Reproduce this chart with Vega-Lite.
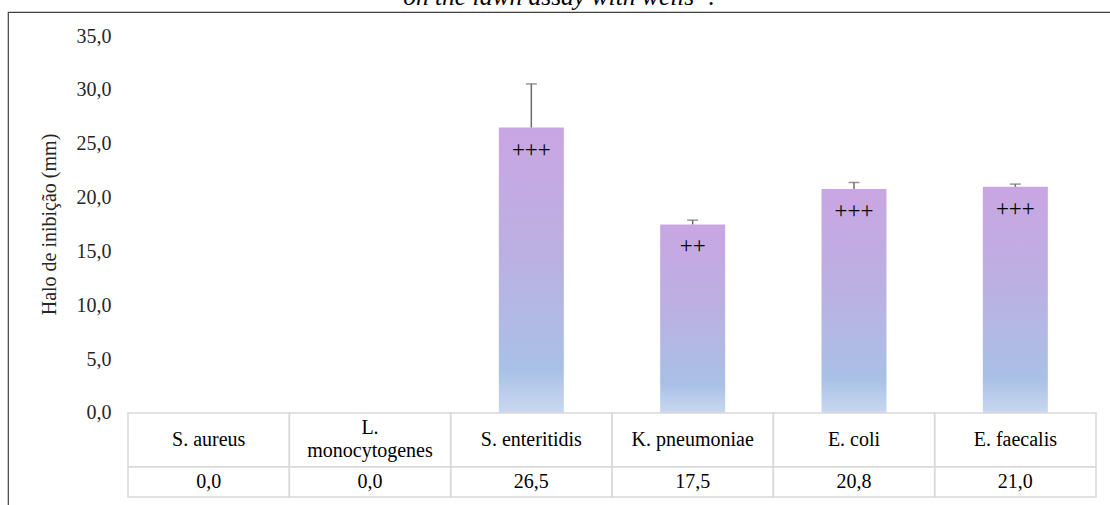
{
  "$schema": "https://vega.github.io/schema/vega-lite/v6.json",
  "width": 1102,
  "height": 493,
  "autosize": "none",
  "padding": {"left": 8, "top": 12, "right": 0, "bottom": 0},
  "title": {
    "text": "on the lawn assay with wells”.",
    "font": "'Liberation Serif', 'DejaVu Serif', serif",
    "fontStyle": "italic",
    "fontWeight": "normal",
    "fontSize": 25.5,
    "color": "#000000",
    "anchor": "middle",
    "baseline": "alphabetic",
    "offset": 0,
    "dy": 18
  },
  "data": {
    "values": [
      {"cat": "S. aureus", "name": "S. aureus", "lines": 1, "value": 0.0, "hi": 0.0, "err": 0, "sig": ""},
      {"cat": "L. monocytogenes", "name": "L.\nmonocytogenes", "lines": 2, "value": 0.0, "hi": 0.0, "err": 0, "sig": ""},
      {"cat": "S. enteritidis", "name": "S. enteritidis", "lines": 1, "value": 26.5, "hi": 30.55, "err": 1, "sig": "+++"},
      {"cat": "K. pneumoniae", "name": "K. pneumoniae", "lines": 1, "value": 17.5, "hi": 17.9, "err": 1, "sig": "++"},
      {"cat": "E. coli", "name": "E. coli", "lines": 1, "value": 20.8, "hi": 21.4, "err": 1, "sig": "+++"},
      {"cat": "E. faecalis", "name": "E. faecalis", "lines": 1, "value": 21.0, "hi": 21.25, "err": 1, "sig": "+++"}
    ]
  },
  "encoding": {
    "x": {
      "field": "cat",
      "type": "nominal",
      "sort": null,
      "scale": {"range": [120, 1088], "paddingInner": 0, "paddingOuter": 0},
      "axis": null
    }
  },
  "layer": [
    {
      "mark": {"type": "bar", "width": {"band": 0.403},
        "fill": {"gradient": "linear", "x1": 0, "y1": 0, "x2": 0, "y2": 1,
          "stops": [
            {"offset": 0, "color": "#c9a6e3"},
            {"offset": 0.45, "color": "#bbb0e2"},
            {"offset": 0.85, "color": "#a9c1e6"},
            {"offset": 1, "color": "#cad8f0"}
          ]}},
      "encoding": {
        "y": {
          "field": "value",
          "type": "quantitative",
          "scale": {"domain": [-7.8, 35], "range": [485, 24], "nice": false, "zero": false},
          "axis": {
            "title": "Halo de inibição (mm)",
            "values": [0, 5, 10, 15, 20, 25, 30, 35],
            "format": ".1f",
            "offset": -120,
            "domain": false,
            "ticks": false,
            "grid": false,
            "labelPadding": 17,
            "labelFont": "'Liberation Serif', 'DejaVu Serif', serif",
            "labelFontSize": 20,
            "labelColor": "#262626",
            "titleFont": "'Liberation Serif', 'DejaVu Serif', serif",
            "titleFontSize": 20,
            "titleFontWeight": "normal",
            "titleColor": "#262626",
            "titleX": -79,
            "titleY": 212,
            "titleBaseline": "middle",
            "titleAngle": -90
          }
        },
        "y2": {"datum": 0}
      }
    },
    {
      "mark": {"type": "rect", "fillOpacity": 0, "stroke": "#d9d9d9", "strokeWidth": 1.5},
      "encoding": {"y": {"datum": 0}, "y2": {"datum": -5}}
    },
    {
      "mark": {"type": "rect", "fillOpacity": 0, "stroke": "#d9d9d9", "strokeWidth": 1.5},
      "encoding": {"y": {"datum": -5}, "y2": {"datum": -7.8}}
    },
    {
      "transform": [{"filter": "datum.err > 0"}],
      "mark": {"type": "rule", "color": "#6b6b6b", "strokeWidth": 1.5},
      "encoding": {"y": {"field": "value", "type": "quantitative"}, "y2": {"field": "hi"}}
    },
    {
      "transform": [{"filter": "datum.err > 0"}],
      "mark": {"type": "tick", "color": "#6b6b6b", "thickness": 1.5, "size": 11, "orient": "horizontal"},
      "encoding": {"y": {"field": "hi", "type": "quantitative"}}
    },
    {
      "mark": {"type": "text", "font": "'Liberation Serif', 'DejaVu Serif', serif", "fontSize": 23, "color": "#000000", "baseline": "middle", "dy": 22},
      "encoding": {"y": {"field": "value", "type": "quantitative"}, "text": {"field": "sig"}}
    },
    {
      "transform": [{"filter": "datum.lines == 1"}],
      "mark": {"type": "text", "font": "'Liberation Serif', 'DejaVu Serif', serif", "fontSize": 20, "color": "#000000", "baseline": "middle"},
      "encoding": {"y": {"datum": -2.5}, "text": {"field": "name"}}
    },
    {
      "transform": [{"filter": "datum.lines == 2"}],
      "mark": {"type": "text", "font": "'Liberation Serif', 'DejaVu Serif', serif", "fontSize": 20, "color": "#000000", "baseline": "middle", "lineBreak": "\n", "lineHeight": 23, "dy": -11.5},
      "encoding": {"y": {"datum": -2.5}, "text": {"field": "name"}}
    },
    {
      "mark": {"type": "text", "font": "'Liberation Serif', 'DejaVu Serif', serif", "fontSize": 20, "color": "#000000", "baseline": "middle"},
      "encoding": {"y": {"datum": -6.4}, "text": {"field": "value", "type": "quantitative", "format": ".1f"}}
    }
  ],
  "config": {
    "view": {"stroke": "#404040", "strokeWidth": 1.2, "strokeDash": [1102, 1595, 493]},
    "font": "'Liberation Serif', 'DejaVu Serif', serif",
    "locale": {"number": {"decimal": ",", "thousands": ".", "grouping": [3], "currency": ["", ""]}}
  }
}
